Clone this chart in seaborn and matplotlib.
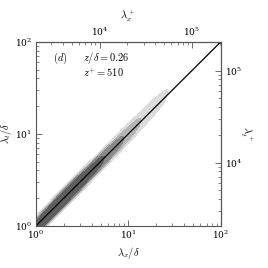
import numpy as np
import pandas as pd
import seaborn as sns
import matplotlib.pyplot as plt
from matplotlib.colors import ListedColormap

# ridge samples of the joint pdf:
# log10(lambda_x/delta), log10(lambda_t/delta) and relative weight
log_lx = [0.00, 0.05, 0.10, 0.15, 0.20, 0.25, 0.30, 0.35, 0.40, 0.45,
          0.50, 0.55, 0.60, 0.65, 0.70, 0.75, 0.80, 0.85, 0.90, 0.95,
          1.00, 1.05, 1.10, 1.15, 1.20, 1.25, 1.30, 1.35]
log_lt = [0.00, -0.02, 0.13, 0.115, 0.265, 0.25, 0.235, 0.38, 0.365, 0.515,
          0.50, 0.485, 0.63, 0.615, 0.765, 0.75, 0.735, 0.88, 0.865, 1.015,
          1.005, 0.99, 1.15, 1.13, 1.29, 1.27, 1.25, 1.40]
weight = [9.0, 9.0, 8.6, 8.2, 7.8, 7.4, 7.0, 6.6, 6.2, 5.8,
          5.4, 5.0, 4.6, 4.2, 3.8, 3.4, 3.0, 2.7, 2.4, 2.1,
          1.8, 1.6, 1.4, 1.2, 1.0, 0.8, 0.6, 0.4]

line_x = [1, 100]
delta_plus = 2050

df = pd.DataFrame({
    "lx": 10 ** np.array(log_lx),
    "lt": 10 ** np.array(log_lt),
    "w": weight,
})

plt.rcParams["mathtext.fontset"] = "cm"
plt.rcParams["font.family"] = "DejaVu Serif"

fig = plt.figure(figsize=(2.68, 2.68), dpi=100)
ax = fig.add_axes([0.134, 0.157, 0.690, 0.687])

greys = ListedColormap(["#dcdcdc", "#b4b4b4", "#8a8a8a", "#5e5e5e", "#383838"])
sns.kdeplot(data=df, x="lx", y="lt", weights="w", log_scale=True, fill=True,
            levels=[0.03, 0.07, 0.14, 0.26, 0.45, 1.0], cmap=greys,
            bw_method=0.6, gridsize=300, ax=ax)
ax.plot(line_x, line_x, color="black", lw=0.9)

ax.set_xscale("log")
ax.set_yscale("log")
ax.set_xlim(1, 100)
ax.set_ylim(1, 100)
ax.set_xlabel(r"$\lambda_x/\delta$", fontsize=7.5, labelpad=3)
ax.set_ylabel(r"$\lambda_t/\delta$", fontsize=7.5)
ax.yaxis.set_label_coords(-0.117, 0.5)

edge = "#555555"
for s in ax.spines.values():
    s.set_color(edge)
    s.set_linewidth(0.8)
ax.tick_params(which="both", direction="in", color=edge, labelsize=6.5, pad=2)
ax.tick_params(which="major", length=4, width=0.6)
ax.tick_params(which="minor", length=2, width=0.5)
ax.tick_params(axis="y", pad=3)

top = ax.secondary_xaxis("top", functions=(lambda x: x * delta_plus,
                                           lambda x: x / delta_plus))
top.set_xlabel(r"$\lambda_x^+$", fontsize=7.5, labelpad=4)
right = ax.secondary_yaxis("right", functions=(lambda y: y * delta_plus,
                                               lambda y: y / delta_plus))
right.set_ylabel(r"$\lambda_t^+$", fontsize=7.5, rotation=-90, labelpad=9)
for sec in (top, right):
    sec.tick_params(which="both", direction="in", color=edge, labelsize=6.5, pad=3)
    sec.tick_params(which="major", length=4, width=0.6)
    sec.tick_params(which="minor", length=2, width=0.5)
    for s in sec.spines.values():
        s.set_color(edge)

ax.text(0.09, 0.91, r"$(d)$", transform=ax.transAxes, fontsize=7.5, va="center")
ax.text(0.255, 0.91, r"$z/\delta = 0.26$", transform=ax.transAxes, fontsize=7.5, va="center")
ax.text(0.255, 0.835, r"$z^{+} = 510$", transform=ax.transAxes, fontsize=7.5, va="center")

fig.savefig("out.png", dpi=100)
